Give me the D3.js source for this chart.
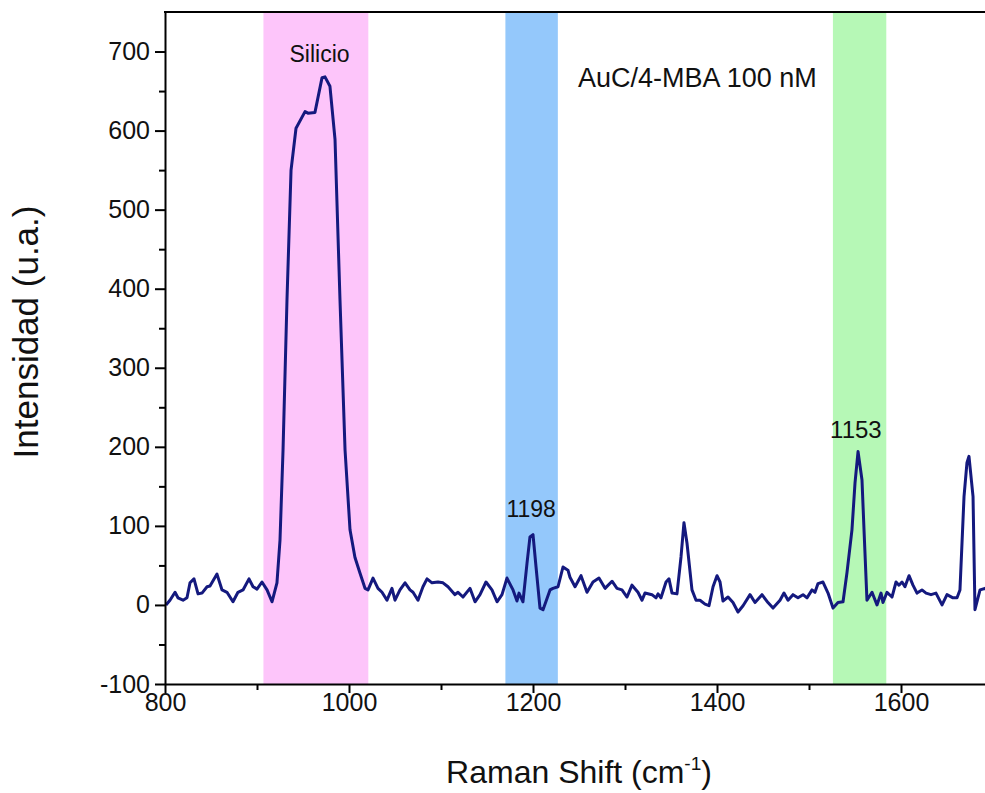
<!DOCTYPE html>
<html>
<head>
<meta charset="utf-8">
<script src="https://cdn.jsdelivr.net/npm/d3@7"></script>
<style>
  body { margin: 0; background: #fff; }
  svg { display: block; font-family: "Liberation Sans", Arial, sans-serif; }
</style>
</head>
<body>
<svg></svg>
<script>
// spectrum
const shift = [801, 805.4, 810.9, 814.1, 819.6, 823.9, 827.2, 831.5, 835.9, 840.2, 845.7, 848.9, 856.5, 862, 867.4, 873.9, 879.3, 884.8, 891.3, 895.7, 900, 905.4, 910.9, 916.3, 921.7, 925, 928.3, 932.6, 937, 942.4, 952.2, 955.4, 963, 970.7, 973.9, 979.3, 984.8, 990.2, 995.7, 1001.1, 1006.5, 1012, 1017.4, 1020.7, 1026.1, 1031.5, 1035.9, 1041.3, 1046.7, 1050, 1055.4, 1060.9, 1066.3, 1069.6, 1075, 1080.4, 1084.8, 1090.2, 1096.7, 1102.2, 1107.6, 1115.2, 1118.5, 1123.9, 1131.5, 1137, 1142.4, 1148.9, 1155.4, 1160.9, 1166.3, 1171.7, 1178.3, 1182.6, 1184.8, 1189.1, 1193.5, 1196.7, 1200, 1203.3, 1207.6, 1210.9, 1218.5, 1221.7, 1227.2, 1232.6, 1238, 1240.2, 1245.7, 1252.2, 1258.7, 1265.2, 1271.7, 1278.3, 1285.9, 1291.3, 1296.7, 1302.2, 1307.6, 1314.1, 1318.5, 1321.7, 1329.3, 1333.7, 1335.9, 1339.1, 1344.6, 1347.8, 1351.1, 1356.5, 1360.9, 1364.1, 1367.4, 1372.8, 1377.2, 1381.5, 1387, 1391.3, 1395.7, 1400, 1403.3, 1406.5, 1412, 1417.4, 1422.8, 1428.3, 1435.9, 1441.3, 1448.9, 1455.4, 1460.9, 1468.5, 1472.8, 1477.2, 1482.6, 1488, 1493.5, 1497.8, 1503.3, 1506.5, 1509.8, 1515.2, 1520.7, 1526.1, 1531.5, 1537, 1541.3, 1546.7, 1550, 1553.3, 1557.6, 1559.8, 1563, 1568.5, 1573.9, 1578.3, 1580.4, 1584.8, 1590.2, 1594.6, 1597.8, 1601.1, 1604.3, 1608.7, 1613, 1617.4, 1622.8, 1627.2, 1632.6, 1638, 1644.6, 1650, 1656.5, 1660.9, 1664.1, 1668.5, 1671.7, 1673.9, 1678.3, 1680.4, 1685.9, 1691.3, 1697, 1703]
const intensity = [0, 6, 16, 9, 6, 9, 28, 33, 14, 15, 23, 24, 39, 19, 16, 4, 16, 19, 33, 23, 20, 29, 19, 4, 28, 82, 196, 386, 550, 603, 624, 622, 623, 667, 668, 656, 589, 386, 196, 95, 60, 40, 21, 19, 34, 21, 16, 6, 21, 6, 19, 28, 19, 16, 6, 23, 33, 28, 29, 28, 23, 13, 16, 10, 21, 4, 13, 29, 19, 4, 13, 34, 19, 5, 15, 4, 53, 86, 89, 48, -4, -6, 19, 21, 23, 48, 44, 35, 23, 37, 16, 29, 34, 21, 30, 21, 19, 10, 25, 16, 6, 15, 13, 9, 14, 9, 29, 33, 15, 14, 61, 104, 78, 19, 6, 6, 1, -1, 23, 37, 29, 5, 10, 3, -9, -1, 13, 3, 13, 3, -4, 6, 15, 6, 13, 9, 13, 9, 19, 16, 27, 29, 15, -4, 3, 4, 41, 95, 154, 194, 158, 95, 6, 16, 0, 15, 3, 16, 10, 29, 25, 29, 23, 37, 25, 15, 19, 15, 13, 15, 0, 13, 9, 9, 19, 137, 180, 188, 137, -6, 19, 21, 15, 22]

// shaded bands
const bandFrom = [907, 1170, 1526]
const bandTo = [1021, 1227, 1584]
const bandColor = ['#fdc5fa', '#94c8fb', '#b6f8b6']

// labels on the plot
const noteText = ['Silicio', 'AuC/4-MBA 100 nM', '1198', '1153']
const noteX = [968, 1249, 1198, 1551]
const noteY = [687, 655, 111, 211]
const noteSize = [23, 27, 23, 24]
const noteAnchor = ['middle', 'start', 'middle', 'middle']

const xTicks = [800, 1000, 1200, 1400, 1600]
const xMinor = [900, 1100, 1300, 1500, 1700]
const yTicks = [-100, 0, 100, 200, 300, 400, 500, 600, 700]
const yMinor = [-50, 50, 150, 250, 350, 450, 550, 650]

const w = 985
const h = 793
const padLeft = 165
const padTop = 12
const plotBottom = 684

let svg = d3.select('svg').attr('width', w).attr('height', h)

let xScale = d3.scaleLinear().domain([800, 1800]).range([padLeft, padLeft + 920])
let yScale = d3.scaleLinear().domain([-100, 750]).range([plotBottom, padTop])

// bands
svg.selectAll('rect.band')
  .data(bandFrom)
  .enter()
  .append('rect')
  .attr('class', 'band')
  .attr('x', d => xScale(d))
  .attr('width', (d, i) => xScale(bandTo[i]) - xScale(d))
  .attr('y', padTop)
  .attr('height', plotBottom - padTop)
  .attr('fill', (d, i) => bandColor[i])

// spectrum
let line = d3.line()
  .x(d => xScale(d[0]))
  .y(d => yScale(d[1]))

svg.append('path')
  .datum(shift.map((s, i) => [s, intensity[i]]))
  .attr('d', line)
  .attr('fill', 'none')
  .attr('stroke', '#14197e')
  .attr('stroke-width', 3)
  .attr('stroke-linejoin', 'round')

// annotations
svg.selectAll('text.note')
  .data(noteText)
  .enter()
  .append('text')
  .attr('class', 'note')
  .attr('x', (d, i) => xScale(noteX[i]))
  .attr('y', (d, i) => yScale(noteY[i]))
  .attr('font-size', (d, i) => noteSize[i])
  .attr('text-anchor', (d, i) => noteAnchor[i])
  .attr('fill', '#111')
  .text(d => d)

// axes
let styleAxis = g => {
  g.selectAll('path, line').attr('stroke', '#000').attr('stroke-width', 2)
  g.selectAll('text').attr('fill', '#111').attr('font-size', 25)
    .attr('font-family', '"Liberation Sans", Arial, sans-serif')
}

svg.append('g')
  .attr('transform', 'translate(0,' + plotBottom + ')')
  .call(d3.axisBottom(xScale).tickValues(xMinor).tickSize(6).tickFormat(''))
  .call(g => g.select('.domain').remove())
  .call(styleAxis)

svg.append('g')
  .attr('transform', 'translate(0,' + plotBottom + ')')
  .call(d3.axisBottom(xScale).tickValues(xTicks).tickSize(9).tickSizeOuter(0).tickPadding(0).tickFormat(d => String(d)))
  .call(styleAxis)

svg.append('g')
  .attr('transform', 'translate(' + padLeft + ',0)')
  .call(d3.axisLeft(yScale).tickValues(yMinor).tickSize(6).tickFormat(''))
  .call(g => g.select('.domain').remove())
  .call(styleAxis)

svg.append('g')
  .attr('transform', 'translate(' + padLeft + ',0)')
  .call(d3.axisLeft(yScale).tickValues(yTicks).tickSize(10).tickSizeOuter(0).tickPadding(5).tickFormat(d => String(d)))
  .call(styleAxis)

// top frame line
svg.append('line')
  .attr('x1', padLeft - 1).attr('x2', w)
  .attr('y1', padTop).attr('y2', padTop)
  .attr('stroke', '#000').attr('stroke-width', 2)

// axis titles
let xt = svg.append('text')
  .attr('x', 579).attr('y', 783)
  .attr('text-anchor', 'middle')
  .attr('font-size', 32)
  .attr('fill', '#111')
xt.append('tspan').text('Raman Shift (cm')
xt.append('tspan').text('-1').attr('font-size', 19).attr('dy', -13)
xt.append('tspan').text(')').attr('dy', 13)

svg.append('text')
  .attr('transform', 'translate(38,332) rotate(-90)')
  .attr('text-anchor', 'middle')
  .attr('font-size', 35)
  .attr('fill', '#111')
  .text('Intensidad (u.a.)')
</script>
</body>
</html>
